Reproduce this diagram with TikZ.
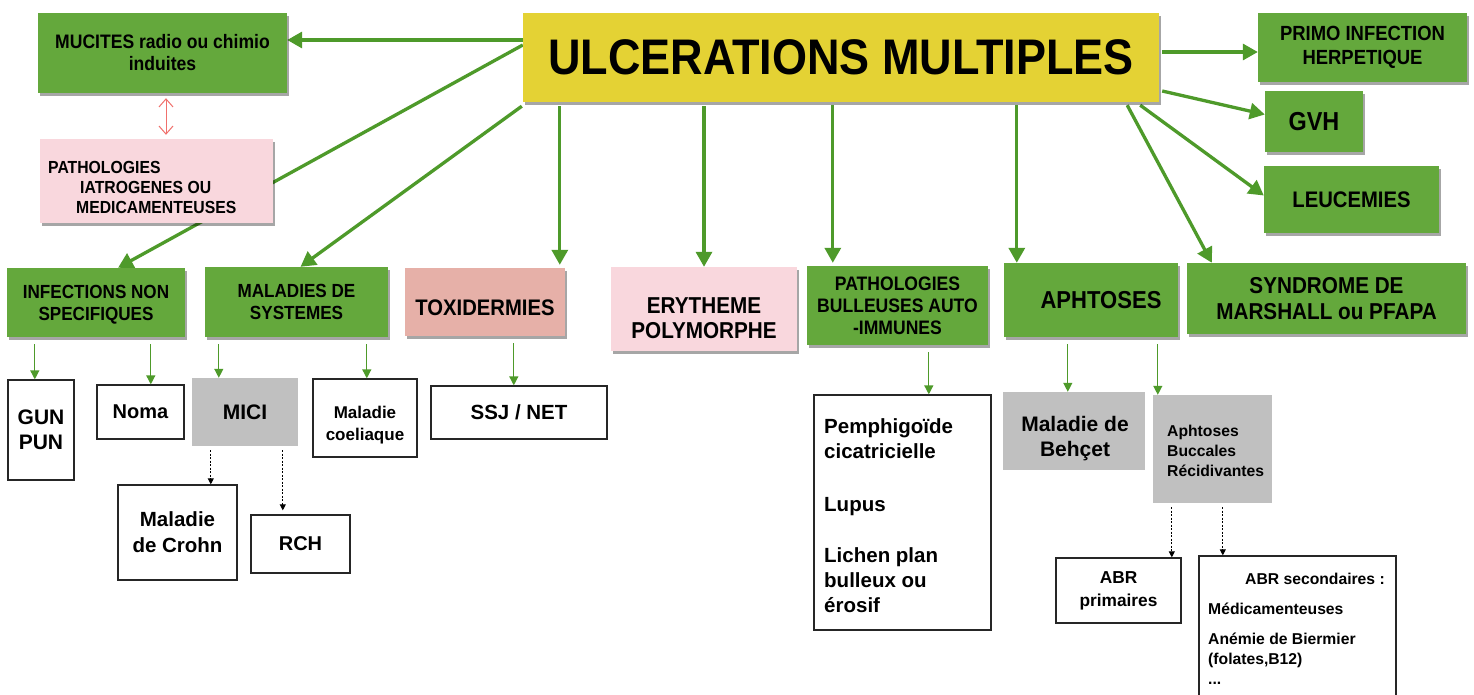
\documentclass[tikz,border=0pt]{standalone}
\usepackage{fontspec}
\setmainfont{Liberation Sans}
\newfontfamily\cnd{Liberation Sans}[FakeStretch=0.9]
\usetikzlibrary{arrows.meta,shadows,calc}
\pgfdeclarelayer{bg}
\pgfsetlayers{bg,main}
\definecolor{ulcy}{RGB}{228,210,52}
\definecolor{boxg}{RGB}{100,168,60}
\definecolor{arrg}{RGB}{78,154,42}
\definecolor{pinkb}{RGB}{249,215,221}
\definecolor{salm}{RGB}{230,176,168}
\definecolor{greyb}{RGB}{192,192,192}
\definecolor{reda}{RGB}{240,112,108}
\newcommand{\fsz}[2]{\fontsize{#1}{#2}\selectfont}
\begin{document}
\begin{tikzpicture}[x=1pt,y=-1pt,
  box/.style={rectangle, inner sep=0pt, align=center},
  shad/.style={drop shadow={shadow xshift=2pt,shadow yshift=-3pt,opacity=0.35,fill=black}},
  ybox/.style={box, fill=ulcy, shad},
  gbox/.style={box, fill=boxg, shad},
  pbox/.style={box, fill=pinkb, shad},
  sbox/.style={box, fill=salm, shad},
  gybox/.style={box, fill=greyb},
  wbox/.style={box, fill=white, draw=black!85, line width=1.3pt},
  txt/.style={inner sep=0pt, align=left},
  ctxt/.style={inner sep=0pt, align=center},
  garr/.style={draw=arrg, line width=3.3pt, -{Triangle[length=15pt,width=16pt]}},
  tarr/.style={draw=arrg, line width=1.3pt, -{Triangle[length=9pt,width=9pt]}, shorten <=7pt},
  darr/.style={draw=black, line width=1pt, dash pattern=on 2pt off 1.5pt, -{Triangle[length=6pt,width=6pt]}, shorten <=4pt},
  rarr/.style={draw=reda, line width=1pt, {Straight Barb[length=8pt,width=14pt]}-{Straight Barb[length=8pt,width=14pt]}}
]
\useasboundingbox (0,0) rectangle (1474,695);
\begin{pgfonlayer}{bg}
\fill[white] (0,0) rectangle (1474,695);
\end{pgfonlayer}
\clip (0,0) rectangle (1474,695);

% top level
\node[ybox, minimum width=636pt, minimum height=89pt, font=\bfseries\cnd\fsz{50}{56}] (ulc) at (841,57.5) {ULCERATIONS MULTIPLES};
\node[gbox, minimum width=249pt, minimum height=80pt, font=\bfseries\cnd\fsz{19.5}{22}] (muc) at (162.5,53) {MUCITES radio ou chimio\\induites};
\node[pbox, minimum width=233pt, minimum height=84pt] (pia) at (156.5,181) {};
\node[txt, font=\bfseries\cnd\fsz{17.5}{20}, anchor=base west] (piat) at (48,214) {PATHOLOGIES\\\hspace*{32pt}IATROGENES OU\\\hspace*{28pt}MEDICAMENTEUSES};
\node[gbox, minimum width=209pt, minimum height=69pt, font=\bfseries\cnd\fsz{20.5}{24}] (primo) at (1362.5,47.5) {PRIMO INFECTION\\HERPETIQUE};
\node[gbox, minimum width=98pt, minimum height=61pt, font=\bfseries\cnd\fsz{26}{30}] (gvh) at (1314,121.5) {GVH};
\node[gbox, minimum width=175pt, minimum height=67pt, font=\bfseries\cnd\fsz{22.5}{26}] (leuc) at (1351.5,199.5) {LEUCEMIES};

% second level
\node[gbox, minimum width=178pt, minimum height=69pt] (infec) at (96,302.5) {};
\node[ctxt, font=\bfseries\cnd\fsz{19}{22}] (infect) at (96,305) {INFECTIONS NON\\SPECIFIQUES};
\node[gbox, minimum width=183pt, minimum height=70pt, font=\bfseries\cnd\fsz{19}{22}] (malsys) at (296.5,302) {MALADIES DE\\SYSTEMES};
\node[sbox, minimum width=160pt, minimum height=68pt] (toxi) at (485,302) {};
\node[ctxt, font=\bfseries\cnd\fsz{22.5}{26}] (toxit) at (485,308) {TOXIDERMIES};
\node[pbox, minimum width=186pt, minimum height=84pt] (ery) at (704,309) {};
\node[ctxt, font=\bfseries\cnd\fsz{23}{25}] (eryt) at (704,318) {ERYTHEME\\POLYMORPHE};
\node[gbox, minimum width=181pt, minimum height=79pt, font=\bfseries\cnd\fsz{19.5}{22}] (bull) at (897.5,305.5) {PATHOLOGIES\\BULLEUSES AUTO\\-IMMUNES};
\node[gbox, minimum width=174pt, minimum height=74pt, font=\bfseries\cnd\fsz{24.5}{28}] (aph) at (1091,300) {\hspace*{20pt}APHTOSES};
\node[gbox, minimum width=279pt, minimum height=71pt, font=\bfseries\cnd\fsz{23}{26}] (marsh) at (1326.5,298.5) {SYNDROME DE\\MARSHALL ou PFAPA};

% third level
\node[wbox, minimum width=66pt, minimum height=100pt, font=\bfseries\fsz{21}{25}] (gun) at (41,430) {GUN\\PUN};
\node[wbox, minimum width=87pt, minimum height=54pt, font=\bfseries\fsz{20}{24}] (noma) at (140.5,412) {Noma};
\node[gybox, minimum width=106pt, minimum height=68pt, font=\bfseries\fsz{21}{24}] (mici) at (245,412) {MICI};
\node[wbox, minimum width=104pt, minimum height=78pt] (coel) at (365,418) {};
\node[ctxt, font=\bfseries\fsz{17}{22}] (coelt) at (365,425) {Maladie\\coeliaque};
\node[wbox, minimum width=176pt, minimum height=53pt, font=\bfseries\fsz{20.5}{24}] (ssj) at (519,412.5) {SSJ / NET};
\node[wbox, minimum width=119pt, minimum height=95pt, font=\bfseries\fsz{20.5}{26}] (crohn) at (177.5,532.5) {Maladie\\de Crohn};
\node[wbox, minimum width=99pt, minimum height=58pt, font=\bfseries\fsz{20}{24}] (rch) at (300.5,544) {RCH};
\node[wbox, minimum width=177pt, minimum height=235pt] (pemph) at (902.5,512.5) {};
\node[txt, font=\bfseries\fsz{20.5}{25}, anchor=base west] (pempht) at (824,612) {Pemphigoïde\\cicatricielle\\[28pt]Lupus\\[26pt]Lichen plan\\bulleux ou\\érosif};
\node[gybox, minimum width=142pt, minimum height=78pt] (behcet) at (1074,431) {};
\node[ctxt, font=\bfseries\fsz{21}{25}] (behcett) at (1075,439) {Maladie de\\Behçet};
\node[gybox, minimum width=119pt, minimum height=108pt] (abr) at (1212.5,449) {};
\node[txt, font=\bfseries\fsz{15.7}{20}, anchor=base west] (abrt) at (1167,476) {Aphtoses\\Buccales\\Récidivantes};
\node[wbox, minimum width=125pt, minimum height=65pt, font=\bfseries\fsz{17.3}{23}] (abrp) at (1118.5,590.5) {ABR\\primaires};
\node[wbox, minimum width=197pt, minimum height=164pt] (abrs) at (1297.5,638) {};
\node[txt, font=\bfseries\fsz{15.7}{20}, anchor=base west] (abrst) at (1208,684) {\hspace*{37pt}ABR secondaires :\\[10pt]Médicamenteuses\\[10pt]Anémie de Biermier\\(folates,B12)\\...};

% connectors
\begin{pgfonlayer}{bg}
\path ([yshift=17.5pt]ulc.west) coordinate (a1)
      ([xshift=37pt,yshift=-4pt]ulc.south west) coordinate (a2)
      ([yshift=-4pt]ery.north |- ulc.south) coordinate (a3)
      ([xshift=310pt,yshift=-3pt]ulc.south west) coordinate (a4)
      ([xshift=494pt,yshift=-3pt]ulc.south west) coordinate (a5)
      ([xshift=3pt,yshift=5.5pt]ulc.east) coordinate (a6);
\draw[garr] (a1) -- (a1 -| muc.east);
\draw[garr] ([yshift=12.5pt]ulc.west) -- ([xshift=22pt]infec.north);
\draw[garr] ([xshift=-1pt,yshift=-4pt]ulc.south west) -- ([xshift=4pt]malsys.north);
\draw[garr, shorten >=3pt] (a2) -- (a2 |- toxi.north);
\draw[garr] (a3) -- (ery.north);
\draw[garr, shorten >=3pt] (a4) -- (a4 |- bull.north);
\draw[garr] (a5) -- (a5 |- aph.north);
\draw[garr] ([xshift=-32pt,yshift=-3pt]ulc.south east) -- ([xshift=25pt]marsh.north west);
\draw[garr] ([xshift=-19pt,yshift=-3pt]ulc.south east) -- ([yshift=4pt]leuc.west);
\draw[garr] ([xshift=3pt,yshift=-33.5pt]ulc.east) -- ([yshift=7pt]gvh.west);
\draw[garr] (a6) -- (a6 -| primo.west);
\end{pgfonlayer}

\path ([xshift=3.5pt,yshift=-5pt]muc.south) coordinate (r1);
\draw[rarr, shorten >=4pt] (r1) -- (r1 |- pia.north);

\path ([xshift=28pt]infec.south west) coordinate (t1)
      ([xshift=144pt]infec.south west) coordinate (t2)
      ([xshift=14pt]malsys.south west) coordinate (t3)
      ([xshift=162pt]malsys.south west) coordinate (t4)
      ([xshift=109pt]toxi.south west) coordinate (t5)
      ([xshift=122pt]bull.south west) coordinate (t6)
      ([xshift=64pt]aph.south west) coordinate (t7)
      ([xshift=154pt]aph.south west) coordinate (t8);
\draw[tarr] (t1) -- (t1 |- gun.north);
\draw[tarr] (t2) -- (t2 |- noma.north);
\draw[tarr] (t3) -- (t3 |- mici.north);
\draw[tarr] (t4) -- (t4 |- coel.north);
\draw[tarr] (t5) -- (t5 |- ssj.north);
\draw[tarr] (t6) -- (t6 |- pemph.north);
\draw[tarr] (t7) -- (t7 |- behcet.north);
\draw[tarr] (t8) -- (t8 |- abr.north);

\path ([xshift=19pt]mici.south west) coordinate (d1)
      ([xshift=91pt]mici.south west) coordinate (d2)
      ([xshift=19pt]abr.south west) coordinate (d3)
      ([xshift=70pt]abr.south west) coordinate (d4);
\draw[darr] (d1) -- (d1 |- crohn.north);
\draw[darr, shorten >=4pt] (d2) -- (d2 |- rch.north);
\draw[darr] (d3) -- (d3 |- abrp.north);
\draw[darr] (d4) -- (d4 |- abrs.north);
\end{tikzpicture}
\end{document}
